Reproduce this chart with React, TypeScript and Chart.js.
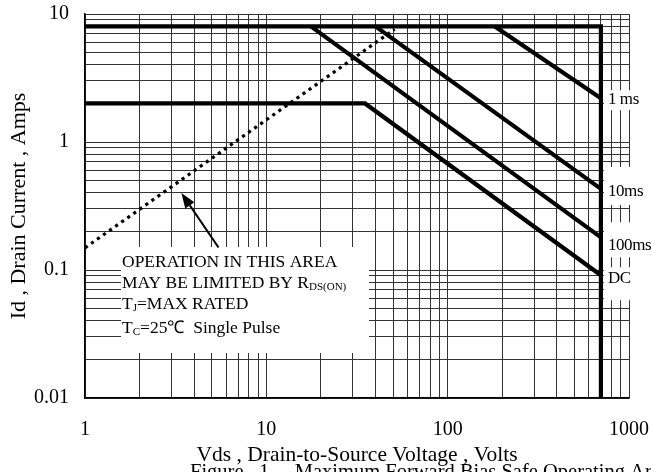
import React, { useEffect, useRef } from 'react';
import { Chart, registerables } from 'chart.js';

Chart.register(...registerables);

// ---- data ----
const xTickLabels = ['1', '10', '100', '1000'];
const yTickLabels = ['0.01', '0.1', '1', '10'];

const envelopeV = [1, 700, 700];
const envelopeI = [8, 8, 0.01];
const dcV = [1, 35, 700];
const dcI = [2, 2, 0.091];
const ms100V = [17.6, 700];
const ms100I = [8, 0.18];
const ms10V = [40, 700];
const ms10I = [8, 0.43];
const ms1V = [182, 700];
const ms1I = [8, 2.2];
const rdsV = [1, 51];
const rdsI = [0.149, 7.6];

const curveLabels = ['1 ms', '10ms', '100ms', 'DC'];
const curveLabelV = [700, 700, 700, 700];
const curveLabelI = [2.2, 0.43, 0.18, 0.091];

const xTitle = 'Vds , Drain-to-Source Voltage , Volts';
const yTitle = 'Id , Drain Current , Amps';
const caption = 'Figure   1.    Maximum Forward Bias Safe Operating Area';

const FONT = "'Liberation Serif', 'Times New Roman', serif";

function pts(xs: number[], ys: number[]) {
  return xs.map((x, i) => ({ x, y: ys[i] }));
}

function decadeTicks(min: number, max: number) {
  const out: { value: number }[] = [];
  const e0 = Math.round(Math.log10(min));
  const e1 = Math.round(Math.log10(max));
  for (let e = e0; e < e1; e++) {
    for (let m = 1; m < 10; m++) out.push({ value: +(m * Math.pow(10, e)).toPrecision(6) });
  }
  out.push({ value: max });
  return out;
}

function labelFor(labels: string[]) {
  return (v: any) => {
    const n = Number(v);
    const hit = labels.find((l) => Math.abs(Number(l) - n) / n < 1e-6);
    return hit ?? '';
  };
}

type Part = { t: string; sub?: boolean };
function drawRich(ctx: CanvasRenderingContext2D, parts: Part[], x: number, y: number, size: number) {
  let cx = x;
  for (const p of parts) {
    if (p.sub) {
      ctx.font = `${Math.round(size * 0.62)}px ${FONT}`;
      ctx.fillText(p.t, cx, y + 2);
    } else {
      ctx.font = `${size}px ${FONT}`;
      ctx.fillText(p.t, cx, y);
    }
    cx += ctx.measureText(p.t).width;
  }
}

const noteLines: Part[][] = [
  [{ t: 'OPERATION IN THIS AREA' }],
  [{ t: 'MAY BE LIMITED BY R' }, { t: 'DS(ON)', sub: true }],
  [{ t: 'T' }, { t: 'J', sub: true }, { t: '=MAX RATED' }],
  [{ t: 'T' }, { t: 'C', sub: true }, { t: '=25\u2103  Single Pulse' }],
];

// label box layout (pixels relative to text centre)
const labelBox = [
  { dy: 1, top: -9, bottom: 11 },
  { dy: 3, top: -25, bottom: 13 },
  { dy: 8, top: -23, bottom: 12 },
  { dy: 3, top: -11, bottom: 22 },
];

const overlayPlugin = {
  id: 'overlay',
  beforeDatasetsDraw(chart: any) {
    const { ctx } = chart;
    const xs = chart.scales.x;
    const ys = chart.scales.y;
    ctx.save();
    ctx.fillStyle = '#ffffff';
    // note box
    ctx.fillRect(121, 247, 248, 106);
    // curve label boxes
    curveLabels.forEach((_, i) => {
      const px = xs.getPixelForValue(curveLabelV[i]);
      const py = ys.getPixelForValue(curveLabelI[i]) + labelBox[i].dy;
      ctx.fillRect(px + 3, py + labelBox[i].top, 60, labelBox[i].bottom - labelBox[i].top);
    });
    ctx.restore();
  },
  afterDraw(chart: any) {
    const { ctx } = chart;
    const xs = chart.scales.x;
    const ys = chart.scales.y;
    ctx.save();
    ctx.fillStyle = '#000';
    ctx.textAlign = 'left';
    ctx.textBaseline = 'alphabetic';
    const baselines = [267, 288, 309, 333];
    noteLines.forEach((ln, i) => drawRich(ctx, ln, 122, baselines[i], 17.5));

    // curve labels
    ctx.textBaseline = 'middle';
    ctx.font = `17px ${FONT}`;
    try {
      (ctx as any).letterSpacing = '-0.4px';
    } catch (e) {
      /* ignore */
    }
    curveLabels.forEach((l, i) => {
      const px = xs.getPixelForValue(curveLabelV[i]);
      const py = ys.getPixelForValue(curveLabelI[i]) + labelBox[i].dy;
      ctx.fillText(l, px + 7, py);
    });
    try {
      (ctx as any).letterSpacing = '0px';
    } catch (e) {
      /* ignore */
    }

    // arrow
    const tipX = xs.getPixelForValue(3.4);
    const tipY = ys.getPixelForValue(0.4);
    const tailX = xs.getPixelForValue(5.45);
    const tailY = ys.getPixelForValue(0.15);
    const dx = tipX - tailX;
    const dy = tipY - tailY;
    const len = Math.hypot(dx, dy);
    const ux = dx / len;
    const uy = dy / len;
    const hl = 15;
    const hw = 5.5;
    const bx = tipX - ux * hl;
    const by = tipY - uy * hl;
    ctx.strokeStyle = '#000';
    ctx.lineWidth = 2;
    ctx.beginPath();
    ctx.moveTo(tailX, tailY);
    ctx.lineTo(bx, by);
    ctx.stroke();
    ctx.beginPath();
    ctx.moveTo(tipX, tipY);
    ctx.lineTo(bx - uy * hw, by + ux * hw);
    ctx.lineTo(bx + uy * hw, by - ux * hw);
    ctx.closePath();
    ctx.fill();

    // caption
    ctx.textBaseline = 'alphabetic';
    ctx.font = `20.5px ${FONT}`;
    ctx.fillText(caption, 190, 478);
    ctx.restore();
  },
};

export default function App() {
  const ref = useRef<HTMLCanvasElement | null>(null);

  useEffect(() => {
    if (!ref.current) return;
    const solid = {
      borderColor: '#000',
      borderWidth: 4.2,
      pointRadius: 0,
      showLine: true,
      fill: false,
      borderJoinStyle: 'miter' as const,
      borderCapStyle: 'butt' as const,
    };
    const chart = new Chart(ref.current, {
      type: 'scatter',
      data: {
        datasets: [
          { ...solid, label: 'Limit', data: pts(envelopeV, envelopeI) },
          { ...solid, label: 'DC', data: pts(dcV, dcI) },
          { ...solid, label: '100ms', data: pts(ms100V, ms100I) },
          { ...solid, label: '10ms', data: pts(ms10V, ms10I) },
          { ...solid, label: '1 ms', data: pts(ms1V, ms1I) },
          {
            ...solid,
            label: 'RDS(on)',
            data: pts(rdsV, rdsI),
            borderWidth: 3.2,
            borderDash: [3.2, 4.2],
          },
        ],
      },
      options: {
        responsive: false,
        animation: false,
        devicePixelRatio: 1,
        layout: { padding: { left: 0, right: 22, top: 14, bottom: 0 } },
        plugins: { legend: { display: false }, tooltip: { enabled: false } },
        scales: {
          x: {
            type: 'logarithmic',
            position: 'bottom',
            min: 1,
            max: 1000,
            afterBuildTicks: (s: any) => {
              s.ticks = decadeTicks(1, 1000);
            },
            afterFit: (s: any) => {
              s.height = 74;
              s.paddingLeft = 0;
              s.paddingRight = 0;
            },
            grid: { color: '#333', lineWidth: 1, drawTicks: false },
            border: { display: true, color: '#000', width: 1.5 },
            ticks: {
              autoSkip: false,
              maxRotation: 0,
              minRotation: 0,
              padding: 20,
              color: '#000',
              font: { family: FONT, size: 20 },
              callback: labelFor(xTickLabels),
            },
            title: {
              display: true,
              text: xTitle,
              color: '#000',
              font: { family: FONT, size: 21.5 },
              padding: { top: 0, bottom: 4 },
            },
          },
          y: {
            type: 'logarithmic',
            position: 'left',
            min: 0.01,
            max: 10,
            afterBuildTicks: (s: any) => {
              s.ticks = decadeTicks(0.01, 10);
            },
            afterFit: (s: any) => {
              s.width = 85;
              s.paddingTop = 0;
              s.paddingBottom = 0;
            },
            grid: { color: '#333', lineWidth: 1, drawTicks: false },
            border: { display: true, color: '#000', width: 1.5 },
            ticks: {
              autoSkip: false,
              padding: 16,
              color: '#000',
              font: { family: FONT, size: 20 },
              callback: labelFor(yTickLabels),
            },
            title: {
              display: true,
              text: yTitle,
              color: '#000',
              font: { family: FONT, size: 22 },
              padding: { top: 6, bottom: 0 },
            },
          },
        },
      },
      plugins: [overlayPlugin],
    } as any);
    return () => chart.destroy();
  }, []);

  return (
    <div style={{ position: 'absolute', left: 0, top: 0, width: 651, height: 472, background: '#fff' }}>
      <canvas ref={ref} width={651} height={472} style={{ width: 651, height: 472, display: 'block' }} />
    </div>
  );
}
